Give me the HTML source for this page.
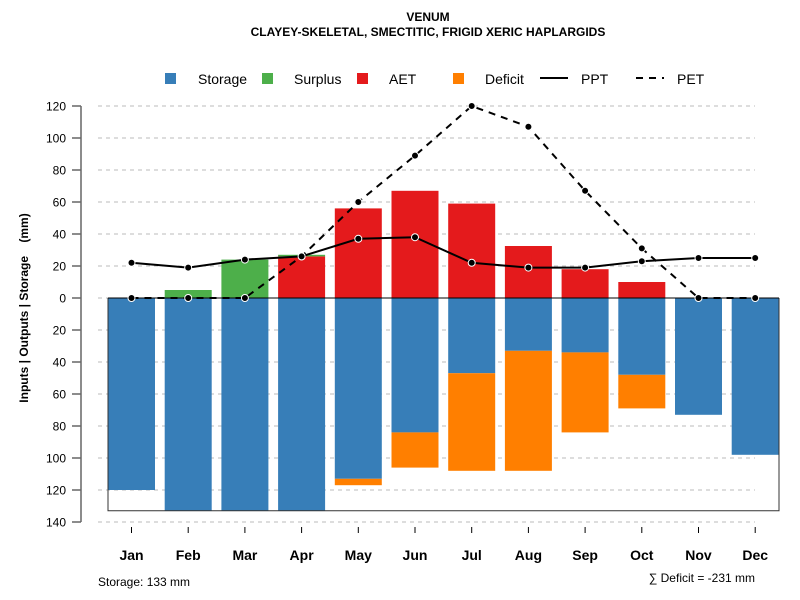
<!DOCTYPE html>
<html><head><meta charset="utf-8"><style>body{margin:0;background:#fff}svg{display:block;font-family:"Liberation Sans",sans-serif}</style></head>
<body>
<svg id="chart" width="800" height="600">
<text x="428" y="21" text-anchor="middle" font-size="12" font-weight="bold">VENUM</text>
<text x="428" y="36" text-anchor="middle" font-size="12" font-weight="bold">CLAYEY-SKELETAL, SMECTITIC, FRIGID XERIC HAPLARGIDS</text>
<g id="legend" font-size="14">
<g><rect x="165" y="73" width="11" height="11" fill="#377eb8"/><text x="198" y="84">Storage</text></g>
<g><rect x="262" y="73" width="11" height="11" fill="#4daf4a"/><text x="294" y="84">Surplus</text></g>
<g><rect x="357" y="73" width="11" height="11" fill="#e41a1c"/><text x="389" y="84">AET</text></g>
<g><rect x="453" y="73" width="11" height="11" fill="#ff7f00"/><text x="485" y="84">Deficit</text></g>
<g><line x1="540" y1="78" x2="568" y2="78" stroke="#000" stroke-width="2"/><text x="581" y="84">PPT</text></g>
<g><line x1="636" y1="78" x2="664" y2="78" stroke="#000" stroke-width="2" stroke-dasharray="7,6"/><text x="677" y="84">PET</text></g>
</g>
<g id="grid"></g><g id="bars"></g><g id="axes"></g><g id="lines"></g>
<text transform="translate(28,308) rotate(-90)" text-anchor="middle" font-size="12" font-weight="bold">Inputs | Outputs | Storage&#160;&#160;&#160;&#160;(mm)</text>
<text x="98" y="586" font-size="12">Storage: 133 mm</text>
<text x="755" y="582" text-anchor="end" font-size="12">∑ Deficit = -231 mm</text>
</svg>
<script>
const months=["Jan","Feb","Mar","Apr","May","Jun","Jul","Aug","Sep","Oct","Nov","Dec"];
const storage=[120,133,133,133,113,84,47,33,34,48,73,98];
const deficit=[0,0,0,0,4,22,61,75,50,21,0,0];
const surplus=[0,5,24,1,0,0,0,0,0,0,0,0];
const aet=[0,0,0,26,56,67,59,32.5,18,10,0,0];
const ppt=[22,19,24,26,37,38,22,19,19,23,25,25];
const pet=[0,0,0,26,60,89,120,107,67,31,0,0];
const yTicks=[120,100,80,60,40,20,0,-20,-40,-60,-80,-100,-120,-140];
const totalStorage=133;
const NS="http://www.w3.org/2000/svg";
const y=v=>298-v*1.6;
const x=i=>131.5+i*56.7;
const bw=47;
function mk(t,a,p){const e=document.createElementNS(NS,t);for(const k in a)e.setAttribute(k,a[k]);document.getElementById(p).appendChild(e);return e;}
yTicks.forEach(v=>{
 const g=mk("line",{x1:98,x2:755,y1:y(v),y2:y(v),stroke:"#bbb","stroke-dasharray":"4,4"},"grid");
 
 
 const t=mk("line",{x1:72,x2:81,y1:y(v),y2:y(v),stroke:"#666","stroke-width":1.5},"axes");
 
 
 const l=mk("text",{x:66,y:y(v)+4.5,"text-anchor":"end","font-size":12},"axes");
 l.textContent=Math.abs(v);
 
 
});
const ya=mk("line",{x1:81,x2:81,y1:y(120),y2:y(-140),stroke:"#666","stroke-width":1.5},"axes");


months.forEach((m,i)=>{
 const bx=x(i)-bw/2;
 function bar(top,bot,c,n){if(Math.abs(top-bot)<0.01)return;const r=mk("rect",{x:bx,y:y(Math.max(top,bot)),width:bw,height:Math.abs(top-bot)*1.6,fill:c},"bars");
  
  }
 bar(0,-storage[i],"#377eb8","storage-bar-"+m.toLowerCase());
 bar(-storage[i],-storage[i]-deficit[i],"#ff7f00","deficit-bar-"+m.toLowerCase());
 bar(0,aet[i],"#e41a1c","aet-bar-"+m.toLowerCase());
 bar(aet[i],aet[i]+surplus[i],"#4daf4a","surplus-bar-"+m.toLowerCase());
 const t=mk("line",{x1:x(i),x2:x(i),y1:527,y2:533,stroke:"#000"},"axes");
 
 
 const l=mk("text",{x:x(i),y:560,"text-anchor":"middle","font-size":14,"font-weight":"bold"},"axes");
 l.textContent=m;
 
 
});
const box=mk("path",{d:`M108 ${y(0)} V${y(-totalStorage)} H779 V${y(0)}`,fill:"none",stroke:"#333"},"bars");


const zl=mk("line",{x1:108,x2:779,y1:y(0),y2:y(0),stroke:"#000"},"bars");


function series(d,name,dash){
 const p=mk("polyline",{points:d.map((v,i)=>x(i)+","+y(v)).join(" "),fill:"none",stroke:"#000","stroke-width":2,"stroke-dasharray":dash},"lines");
 
 
 d.forEach((v,i)=>{const c=mk("circle",{cx:x(i),cy:y(v),r:3.5,fill:"#000",stroke:"#fff","stroke-width":1},"lines");
  
  });
}
series(pet,"pet","7,6");
series(ppt,"ppt","none");
</script>
</body></html>
